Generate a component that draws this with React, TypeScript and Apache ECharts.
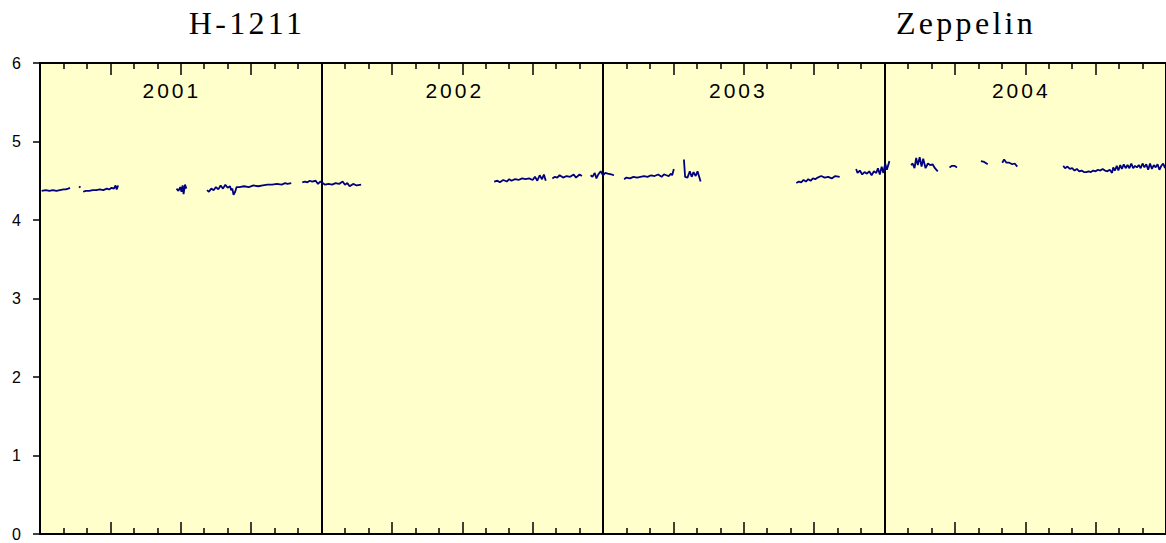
import React, { useEffect, useRef } from "react";
import * as echarts from "echarts";

// x = month index from Jan 2001 (0..48), y = value
const yearNames = ["2001", "2002", "2003", "2004"];
const yearLabelPos = [5.62, 17.68, 29.77, 41.83];
const yTicks = [0, 1, 2, 3, 4, 5, 6];
const titles = ["H-1211", "Zeppelin"];

const segA: [number, number][] = [
  [0.07, 4.37], [0.25, 4.38], [0.4, 4.37], [0.55, 4.38], [0.7, 4.37], [0.85, 4.38], [1.0, 4.39], [1.1, 4.39], [1.2, 4.4], [1.28, 4.41],
];
const segB1: [number, number][] = [[1.67, 4.41], [1.72, 4.43]];
const segB2: [number, number][] = [
  [1.84, 4.36], [1.95, 4.37], [2.1, 4.37], [2.25, 4.38], [2.4, 4.38], [2.55, 4.39], [2.7, 4.38], [2.85, 4.4], [2.95, 4.39], [3.05, 4.41], [3.15, 4.4], [3.22, 4.44], [3.27, 4.39], [3.33, 4.44],
];
const segC: [number, number][] = [
  [5.82, 4.4], [5.9, 4.37], [5.98, 4.42], [6.03, 4.36], [6.08, 4.44], [6.12, 4.33], [6.18, 4.45], [6.24, 4.4],
];
const segD: [number, number][] = [
  [7.12, 4.38], [7.2, 4.36], [7.3, 4.4], [7.4, 4.38], [7.5, 4.42], [7.6, 4.39], [7.7, 4.44], [7.8, 4.4], [7.9, 4.45], [8.0, 4.41], [8.1, 4.43], [8.15, 4.38], [8.2, 4.4], [8.25, 4.32], [8.32, 4.36], [8.38, 4.42], [8.5, 4.42], [8.7, 4.43], [8.9, 4.42], [9.1, 4.44], [9.3, 4.43], [9.5, 4.44], [9.7, 4.45], [9.9, 4.45], [10.1, 4.46], [10.3, 4.45], [10.45, 4.47], [10.55, 4.46], [10.71, 4.47],
];
const segE: [number, number][] = [
  [11.18, 4.48], [11.3, 4.49], [11.4, 4.48], [11.5, 4.5], [11.6, 4.49], [11.75, 4.5], [11.85, 4.46], [11.95, 4.49], [12.05, 4.47], [12.15, 4.45], [12.3, 4.46], [12.45, 4.45], [12.6, 4.47], [12.75, 4.46], [12.9, 4.49], [13.0, 4.45], [13.1, 4.47], [13.2, 4.43], [13.35, 4.46], [13.5, 4.44], [13.69, 4.45],
];
const segF: [number, number][] = [
  [19.36, 4.49], [19.5, 4.5], [19.6, 4.48], [19.75, 4.51], [19.9, 4.49], [20.0, 4.52], [20.1, 4.5], [20.25, 4.52], [20.4, 4.51], [20.55, 4.53], [20.7, 4.52], [20.85, 4.53], [21.0, 4.51], [21.1, 4.55], [21.2, 4.5], [21.3, 4.57], [21.4, 4.52], [21.48, 4.58], [21.56, 4.5],
];
const segG1: [number, number][] = [
  [21.84, 4.53], [21.95, 4.55], [22.05, 4.54], [22.15, 4.57], [22.3, 4.54], [22.45, 4.56], [22.6, 4.55], [22.75, 4.58], [22.85, 4.54], [23.0, 4.58], [23.1, 4.56],
];
const segG2: [number, number][] = [
  [23.47, 4.57], [23.55, 4.55], [23.65, 4.6], [23.72, 4.53], [23.8, 4.58], [23.9, 4.62], [24.0, 4.57], [24.1, 4.6], [24.2, 4.59], [24.35, 4.58], [24.47, 4.57],
];
const segH: [number, number][] = [
  [24.9, 4.52], [25.0, 4.54], [25.15, 4.53], [25.3, 4.55], [25.45, 4.54], [25.6, 4.55], [25.75, 4.56], [25.9, 4.55], [26.05, 4.57], [26.2, 4.56], [26.35, 4.58], [26.5, 4.55], [26.6, 4.58], [26.7, 4.57], [26.8, 4.56], [26.9, 4.59], [26.95, 4.57], [27.02, 4.65],
];
const segI: [number, number][] = [
  [27.45, 4.77], [27.5, 4.55], [27.6, 4.54], [27.7, 4.62], [27.78, 4.55], [27.86, 4.61], [27.95, 4.56], [28.03, 4.62], [28.1, 4.55], [28.16, 4.49],
];
const segJ: [number, number][] = [
  [32.24, 4.47], [32.35, 4.49], [32.45, 4.48], [32.55, 4.51], [32.65, 4.49], [32.75, 4.52], [32.85, 4.5], [32.95, 4.53], [33.05, 4.52], [33.15, 4.54], [33.3, 4.56], [33.45, 4.54], [33.6, 4.55], [33.75, 4.53], [33.9, 4.56], [34.09, 4.55],
];
const segK: [number, number][] = [
  [34.79, 4.65], [34.85, 4.6], [34.95, 4.63], [35.05, 4.58], [35.15, 4.61], [35.25, 4.59], [35.35, 4.62], [35.45, 4.57], [35.55, 4.62], [35.65, 4.6], [35.72, 4.66], [35.8, 4.58], [35.88, 4.68], [35.95, 4.6], [36.03, 4.72], [36.1, 4.64], [36.21, 4.75],
];
const segL: [number, number][] = [
  [37.13, 4.7], [37.2, 4.72], [37.28, 4.66], [37.35, 4.79], [37.42, 4.7], [37.5, 4.8], [37.58, 4.68], [37.65, 4.78], [37.75, 4.66], [37.85, 4.72], [37.95, 4.7], [38.05, 4.71], [38.15, 4.66], [38.27, 4.62],
];
const segM: [number, number][] = [[38.77, 4.67], [38.88, 4.69], [38.98, 4.69], [39.09, 4.67]];
const segN: [number, number][] = [[40.11, 4.75], [40.25, 4.74], [40.4, 4.71]];
const segO: [number, number][] = [
  [41.02, 4.73], [41.1, 4.77], [41.2, 4.73], [41.32, 4.73], [41.45, 4.71], [41.55, 4.72], [41.66, 4.68],
];
const segP: [number, number][] = [
  [43.62, 4.69], [43.7, 4.66], [43.8, 4.68], [43.9, 4.65], [44.0, 4.66], [44.1, 4.63], [44.2, 4.65], [44.3, 4.62], [44.4, 4.63], [44.5, 4.61], [44.6, 4.61], [44.7, 4.62], [44.8, 4.61], [44.9, 4.63], [45.0, 4.62], [45.1, 4.64], [45.2, 4.63], [45.3, 4.65], [45.4, 4.63], [45.5, 4.62], [45.6, 4.64], [45.7, 4.6], [45.75, 4.67], [45.82, 4.63], [45.9, 4.69], [45.97, 4.63], [46.05, 4.7], [46.12, 4.65], [46.2, 4.71], [46.28, 4.66], [46.36, 4.7], [46.44, 4.66], [46.52, 4.72], [46.6, 4.66], [46.68, 4.69], [46.76, 4.67], [46.84, 4.7], [46.92, 4.66], [47.0, 4.72], [47.08, 4.67], [47.16, 4.71], [47.24, 4.64], [47.32, 4.72], [47.4, 4.65], [47.48, 4.7], [47.56, 4.67], [47.64, 4.71], [47.72, 4.64], [47.8, 4.69], [47.88, 4.72], [47.96, 4.66],
];

const segments = [segA, segB1, segB2, segC, segD, segE, segF, segG1, segG2, segH, segI, segJ, segK, segL, segM, segN, segO, segP];

const SANS = "Arial, 'Liberation Sans', sans-serif";
const SERIF = "'Times New Roman', 'Liberation Serif', serif";

export default function App() {
  const ref = useRef<HTMLDivElement>(null);
  useEffect(() => {
    if (!ref.current) return;
    const chart = echarts.init(ref.current, null, { renderer: "svg" });
    const tickAxis = (position: string) => ({
      type: "value",
      position,
      min: 0,
      max: 48,
      interval: 3,
      axisLine: { show: true, onZero: false, lineStyle: { color: "#000", width: 2 } },
      axisTick: { show: true, inside: true, length: 12, lineStyle: { color: "#000", width: 1.5 } },
      minorTick: { show: true, splitNumber: 3, length: 6, lineStyle: { color: "#000", width: 1.5 } },
      axisLabel: { show: false },
      splitLine: { show: false },
    });
    const applySpacing = () => {
      const root = ref.current;
      if (!root) return;
      root.querySelectorAll("text").forEach((t) => {
        const s = (t.textContent || "").trim();
        if (titles.includes(s)) (t as any).style.letterSpacing = "3.3px";
        else if (yearNames.includes(s)) (t as any).style.letterSpacing = "3px";
      });
    };
    chart.on("finished", applySpacing);
    chart.setOption({
      animation: false,
      backgroundColor: "#fff",
      grid: {
        left: 40,
        top: 63,
        width: 1128,
        height: 471,
        show: true,
        backgroundColor: "#FFFFCC",
        borderWidth: 0,
      },
      graphic: [
        {
          type: "text",
          x: 247,
          y: 23,
          style: { text: titles[0], fontFamily: SERIF, fontSize: 32, fill: "#000", align: "center", verticalAlign: "middle" },
        },
        {
          type: "text",
          x: 966,
          y: 23,
          style: { text: titles[1], fontFamily: SERIF, fontSize: 32, fill: "#000", align: "center", verticalAlign: "middle" },
        },
      ],
      xAxis: [
        tickAxis("bottom"),
        tickAxis("top"),
        {
          type: "value",
          position: "bottom",
          min: 0,
          max: 48,
          interval: 12,
          axisLine: { show: false, onZero: false },
          axisTick: { show: false },
          axisLabel: { show: false },
          splitLine: { show: true, lineStyle: { color: "#000", width: 2 } },
        },
        {
          type: "value",
          position: "top",
          min: 0,
          max: 48,
          interval: 12,
          axisLine: { show: false, onZero: false },
          axisTick: { show: false },
          splitLine: { show: false },
          axisLabel: {
            show: true,
            inside: true,
            customValues: yearLabelPos,
            formatter: (v: number) => yearNames[Math.floor(v / 12)] ?? "",
            fontSize: 21,
            fontFamily: SANS,
            color: "#000",
            margin: 17,
          },
        },
      ],
      yAxis: {
        type: "value",
        min: yTicks[0],
        max: yTicks[yTicks.length - 1],
        interval: 1,
        axisLine: { show: true, onZero: false, lineStyle: { color: "#000", width: 2 } },
        axisTick: { show: true, length: 7, lineStyle: { color: "#000", width: 1.5 } },
        axisLabel: { fontSize: 16, fontFamily: SANS, color: "#000", margin: 19 },
        splitLine: { show: false },
      },
      series: segments.map((seg) => ({
        type: "line",
        data: seg,
        xAxisIndex: 0,
        yAxisIndex: 0,
        showSymbol: false,
        symbol: "none",
        lineStyle: { color: "#000080", width: 1.8 },
        silent: true,
      })),
    });
    applySpacing();
    const timer = setTimeout(applySpacing, 50);
    return () => {
      clearTimeout(timer);
      chart.dispose();
    };
  }, []);
  return (
    <div
      ref={ref}
      style={{ position: "absolute", left: 0, top: 0, width: 1166, height: 543 }}
    />
  );
}
